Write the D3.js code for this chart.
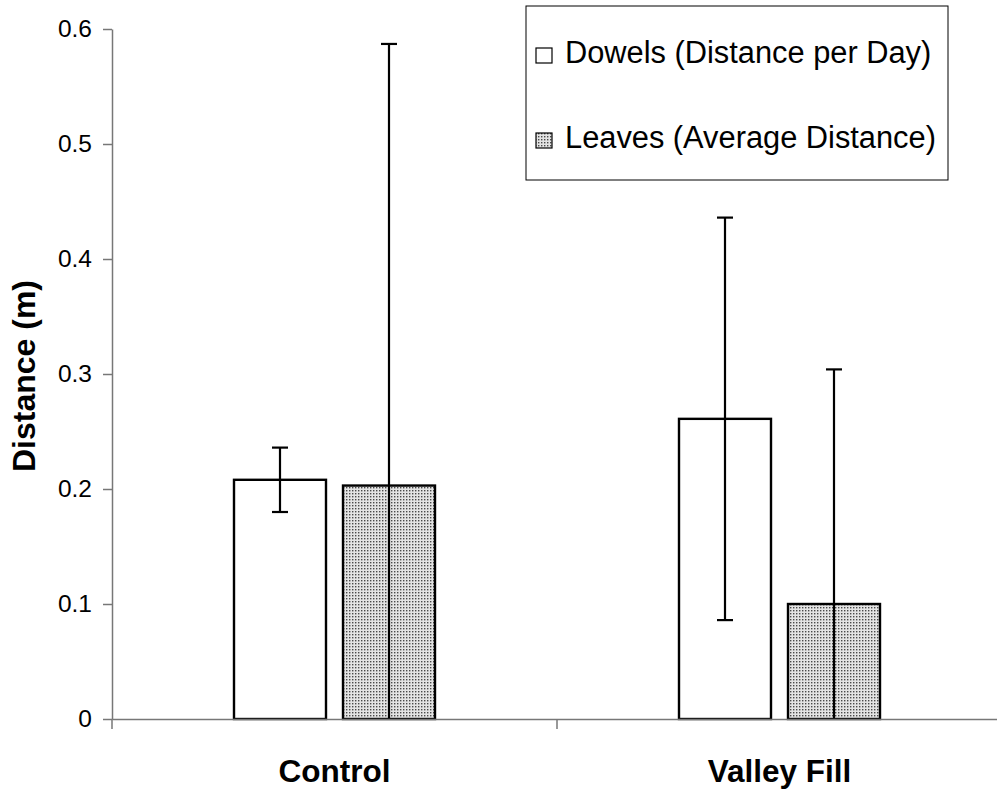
<!DOCTYPE html>
<html>
<head>
<meta charset="utf-8">
<script src="https://cdn.jsdelivr.net/npm/d3@7"></script>
<style>
  html, body { margin: 0; padding: 0; background: #fff; }
  svg { display: block; font-family: "Liberation Sans", Arial, sans-serif; }
</style>
</head>
<body>
<div id="chart"></div>
<script>
(function () {
  // data
  const categories = ["Control", "Valley Fill"];
  const seriesNames = ["Dowels (Distance per Day)", "Leaves (Average Distance)"];
  const dowelMeans = [0.208, 0.261];
  const dowelErrors = [0.028, 0.175];
  const leafMeans = [0.203, 0.100];
  const leafErrors = [0.384, 0.204];
  const yTicks = [0, 0.1, 0.2, 0.3, 0.4, 0.5, 0.6];

  const W = 997, H = 791;
  const plot = { left: 112, right: 1002, top: 29, bottom: 719 };

  const svg = d3.select("#chart").append("svg")
    .attr("width", W).attr("height", H);

  // dotted fill for leaves
  const defs = svg.append("defs");
  const pat = defs.append("pattern")
    .attr("id", "dots")
    .attr("patternUnits", "userSpaceOnUse")
    .attr("width", 3).attr("height", 3);
  pat.append("rect").attr("width", 3).attr("height", 3).attr("fill", "#e4e4e4");
  pat.append("rect").attr("x", 1).attr("y", 1).attr("width", 1.4).attr("height", 1.4).attr("fill", "#4a4a4a");

  defs.append("clipPath").attr("id", "plotClip")
    .append("rect")
    .attr("x", plot.left).attr("y", plot.top - 5)
    .attr("width", plot.right - plot.left).attr("height", plot.bottom - plot.top + 5);

  const x0 = d3.scaleBand().domain(categories).range([plot.left, plot.right]).padding(0);
  const bw = x0.bandwidth();
  const x1 = d3.scaleBand().domain(seriesNames)
    .range([bw / 2 - 100.5, bw / 2 + 100.5])
    .paddingInner(0.156).paddingOuter(0);
  const y = d3.scaleLinear().domain([0, 0.6]).range([plot.bottom, plot.top]);

  const rows = [];
  categories.forEach((c, i) => {
    rows.push({ cat: c, s: seriesNames[0], v: dowelMeans[i], e: dowelErrors[i], fill: "#fff" });
    rows.push({ cat: c, s: seriesNames[1], v: leafMeans[i], e: leafErrors[i], fill: "url(#dots)" });
  });

  // bars
  svg.append("g").selectAll("rect").data(rows).join("rect")
    .attr("x", d => x0(d.cat) + x1(d.s))
    .attr("y", d => y(d.v))
    .attr("width", x1.bandwidth())
    .attr("height", d => y(0) - y(d.v))
    .attr("fill", d => d.fill)
    .attr("stroke", "#000")
    .attr("stroke-width", 2.4);

  // error bars
  const eg = svg.append("g").attr("clip-path", "url(#plotClip)")
    .attr("stroke", "#000").attr("stroke-width", 2.2);
  rows.forEach(d => {
    const cx = x0(d.cat) + x1(d.s) + x1.bandwidth() / 2;
    const hi = y(d.v + d.e), lo = y(d.v - d.e);
    eg.append("line").attr("x1", cx).attr("x2", cx).attr("y1", hi).attr("y2", lo);
    eg.append("line").attr("x1", cx - 8).attr("x2", cx + 8).attr("y1", hi).attr("y2", hi);
    eg.append("line").attr("x1", cx - 8).attr("x2", cx + 8).attr("y1", lo).attr("y2", lo);
  });

  // y axis
  const yAxis = svg.append("g")
    .attr("transform", `translate(${plot.left},0)`)
    .call(d3.axisLeft(y).tickValues(yTicks).tickSize(9).tickSizeOuter(0).tickPadding(11)
      .tickFormat(d => d === 0 ? "0" : d3.format(".1f")(d)));
  yAxis.select(".domain").attr("stroke", "#777").attr("stroke-width", 1.5);
  yAxis.selectAll(".tick line").attr("stroke", "#777").attr("stroke-width", 1.5);
  yAxis.selectAll(".tick text")
    .attr("font-size", 24.5).attr("fill", "#000")
    .attr("font-family", "'Liberation Sans', Arial, sans-serif");

  // x axis (ticks between categories)
  const xAxis = svg.append("g")
    .attr("transform", `translate(0,${plot.bottom})`)
    .call(d3.axisBottom(x0).tickSize(0).tickSizeOuter(0).tickFormat(""));
  xAxis.select(".domain").attr("stroke", "#777").attr("stroke-width", 1.5);
  const edges = [plot.left].concat(categories.map(c => x0(c) + bw));
  xAxis.selectAll("line.edge").data(edges).join("line")
    .attr("class", "edge")
    .attr("x1", d => d).attr("x2", d => d)
    .attr("y1", 0).attr("y2", 10)
    .attr("stroke", "#777").attr("stroke-width", 1.5);

  svg.append("g").selectAll("text").data(categories).join("text")
    .attr("x", d => x0(d) + bw / 2)
    .attr("y", 782)
    .attr("text-anchor", "middle")
    .attr("font-size", 31.5)
    .attr("font-weight", "bold")
    .text(d => d);

  svg.append("text")
    .attr("transform", "translate(35,376) rotate(-90)")
    .attr("text-anchor", "middle")
    .attr("font-size", 32)
    .attr("font-weight", "bold")
    .text("Distance (m)");

  // legend
  const lg = svg.append("g");
  lg.append("rect")
    .attr("x", 526).attr("y", 6).attr("width", 422).attr("height", 174)
    .attr("fill", "#fff").attr("stroke", "#000").attr("stroke-width", 1);
  const legRows = [
    { name: seriesNames[0], fill: "#fff", base: 63 },
    { name: seriesNames[1], fill: "url(#dots)", base: 148 }
  ];
  legRows.forEach(r => {
    lg.append("rect")
      .attr("x", 536).attr("y", r.base - 15).attr("width", 16).attr("height", 15)
      .attr("fill", r.fill).attr("stroke", "#000").attr("stroke-width", 1.2);
    lg.append("text")
      .attr("x", 565).attr("y", r.base)
      .attr("font-size", 30.8)
      .text(r.name);
  });
})();
</script>
</body>
</html>
